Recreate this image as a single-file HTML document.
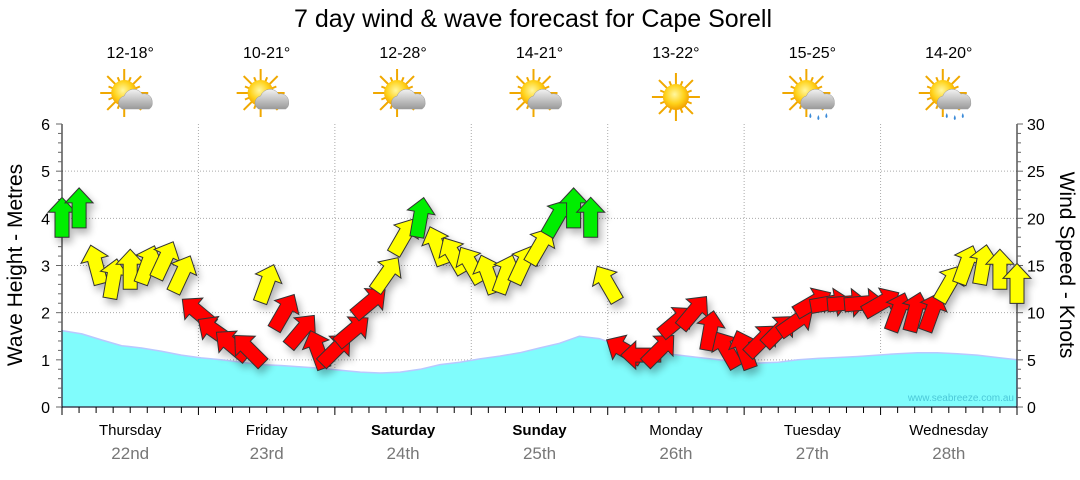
<!DOCTYPE html>
<html><head><meta charset="utf-8"><style>
body{margin:0;background:#fff;width:1080px;height:475px;overflow:hidden;font-family:"Liberation Sans","DejaVu Sans",sans-serif}
</style></head><body>
<svg id="c" width="1080" height="475" xmlns="http://www.w3.org/2000/svg">
<defs>
<filter id="sh" x="-50%" y="-50%" width="200%" height="200%"><feGaussianBlur in="SourceAlpha" stdDeviation="4"/><feOffset dx="3" dy="5"/><feComponentTransfer><feFuncA type="linear" slope="0.3"/></feComponentTransfer><feMerge><feMergeNode/><feMergeNode in="SourceGraphic"/></feMerge></filter>
<radialGradient id="sun" cx="0.45" cy="0.4" r="0.6"><stop offset="0" stop-color="#fff7a0"/><stop offset="0.6" stop-color="#ffd21a"/><stop offset="1" stop-color="#f2a000"/></radialGradient>
<linearGradient id="cl" x1="0" y1="0" x2="0" y2="1"><stop offset="0" stop-color="#f2f2f2"/><stop offset="1" stop-color="#9a9a9a"/></linearGradient>
</defs>
<text x="533" y="27" text-anchor="middle" font-size="25" fill="#000">7 day wind &amp; wave forecast for Cape Sorell</text>
<g id="grid"></g><g id="wave"></g><g id="axes"></g><g id="arrows" filter="url(#sh)"></g><g id="top"></g>
<text x="1014" y="401" text-anchor="end" font-size="10" fill="#4cc8d8">www.seabreeze.com.au</text>
<text transform="translate(22,265) rotate(-90)" text-anchor="middle" font-size="21">Wave Height - Metres</text>
<text transform="translate(1060,265) rotate(90)" text-anchor="middle" font-size="21">Wind Speed - Knots</text>
</svg>
<script>
const days=["Thursday","Friday","Saturday","Sunday","Monday","Tuesday","Wednesday"];
const dates=["22nd","23rd","24th","25th","26th","27th","28th"];
const temps=["12-18°","10-21°","12-28°","14-21°","13-22°","15-25°","14-20°"];
const icons=["pc","pc","pc","pc","sun","rain","rain"];
const waveTicks=[0,1,2,3,4,5,6];
const windTicks=[0,5,10,15,20,25,30];
// wave height every 6 hours
const wave=[1.62,1.55,1.42,1.3,1.25,1.18,1.1,1.04,1.0,0.95,0.9,0.88,0.85,0.82,0.78,0.74,0.72,0.74,0.8,0.9,0.95,1.02,1.08,1.15,1.25,1.35,1.5,1.45,1.3,1.2,1.15,1.1,1.05,1.0,0.95,0.93,0.95,1.0,1.03,1.05,1.07,1.1,1.13,1.15,1.15,1.13,1.1,1.05,1.0];
// wind every 3 hours: speed (kn), arrow angle (deg, 0=up)
const windSpd=[20,21,15,13.5,14.5,15,15.5,14, 10,8,6.5,6,13,10,8,6, 6,8,11,14,18,20,17,16, 15,14,14,15,17,20,21,20, 13,6,5.5,6,9,10,8,6, 6,7,8,9,11,11,11,11, 11,10,10,10,13,15,15,14.5,13];
const windDir=[0,0,-15,10,0,20,25,25, -50,-55,-50,-45,20,30,40,-20, 45,50,50,35,30,10,-20,-30, -30,-20,20,25,30,30,0,0, -30,-60,-90,45,50,40,10,-30, -20,45,45,55,60,80,85,85, 60,20,15,20,30,20,10,0,0];
const X0=62,X1=1017,YB=407,YT=124;
const xs=i=>X0+(X1-X0)*i/56, xw=i=>X0+(X1-X0)*i/48;
const yWave=v=>YB-(YB-YT)*v/6, yWind=v=>YB-(YB-YT)*v/30;
const NS="http://www.w3.org/2000/svg";
function mk(p,t,a){const e=document.createElementNS(NS,t);for(const k in a)e.setAttribute(k,a[k]);p.appendChild(e);return e;}
const G=id=>document.getElementById(id);
const g=G('grid');
for(let i=1;i<7;i++){const x=X0+(X1-X0)*i/7;const l=mk(g,'line',{x1:x,x2:x,y1:YT,y2:YB,stroke:'#aaa','stroke-dasharray':'1,2'});

}
waveTicks.forEach(v=>{if(v>0&&v<6){const l=mk(g,'line',{x1:X0,x2:X1,y1:yWave(v),y2:yWave(v),stroke:'#aaa','stroke-dasharray':'1,2'});

}});
let d='M'+X0+','+YB;
wave.forEach((v,i)=>{d+=' L'+xw(i).toFixed(1)+','+yWave(v).toFixed(1);});
d+=' L'+X1+','+YB+'Z';
const wa=mk(G('wave'),'path',{d:d,fill:'#80fcfc',stroke:'#b8c8ff','stroke-width':1.5});


const a=G('axes');
mk(a,'line',{x1:X0,x2:X0,y1:YT,y2:YB,stroke:'#000'});
mk(a,'line',{x1:X1,x2:X1,y1:YT,y2:YB,stroke:'#000'});
mk(a,'line',{x1:X0,x2:X1,y1:YB,y2:YB,stroke:'#000'});
for(let k=0;k<=30;k++){const y=YB-(YB-YT)*k/30;const big=k%5==0;
mk(a,'line',{x1:X0-(big?6:4),x2:X0,y1:y,y2:y,stroke:'#666'});
mk(a,'line',{x1:X1,x2:X1+(big?6:4),y1:y,y2:y,stroke:'#666'});}
waveTicks.forEach(v=>{const t=mk(a,'text',{x:50,y:yWave(v)+6,'text-anchor':'end','font-size':16});t.textContent=v;

});
windTicks.forEach(v=>{const t=mk(a,'text',{x:1027,y:yWind(v)+6,'font-size':16});t.textContent=v;

});
for(let i=0;i<=56;i++){const x=xs(i);mk(a,'line',{x1:x,x2:x,y1:YB,y2:YB+(i%8==0?8:6),stroke:'#000'});}
const dw=(X1-X0)/7;
days.forEach((n,i)=>{const cx=X0+dw*(i+0.5);
const t=mk(a,'text',{x:cx,y:435,'text-anchor':'middle','font-size':15,'font-weight':(i==2||i==3)?'bold':'normal'});t.textContent=n;


const t2=mk(a,'text',{x:cx,y:459,'text-anchor':'middle','font-size':17,fill:'#777'});t2.textContent=dates[i];


const t3=mk(G('top'),'text',{x:cx,y:58,'text-anchor':'middle','font-size':16});t3.textContent=temps[i];


const ic=mk(G('top'),'g',{transform:'translate('+cx+',97)'});


const sx=icons[i]=='sun'?0:-6, sy=icons[i]=='sun'?0:-4;
for(let r=0;r<16;r++){const an=r*Math.PI/8,L=r%2?17:24;mk(ic,'line',{x1:sx,y1:sy,x2:sx+L*Math.sin(an),y2:sy-L*Math.cos(an),stroke:'#f0a800','stroke-width':2});}
mk(ic,'circle',{cx:sx,cy:sy,r:13,fill:'url(#sun)'});
if(icons[i]!='sun'){mk(ic,'path',{d:'M-8,12 a7,7 0 0 1 2,-13 a10,10 0 0 1 18,-2 a8,8 0 0 1 10,8 a7,7 0 0 1 -3,7z',fill:'url(#cl)',stroke:'#999','stroke-width':0.5});
if(icons[i]=='rain'){[[-2,16],[6,18],[14,16]].forEach(p=>mk(ic,'path',{d:'M'+p[0]+','+p[1]+' q-2,4 0,5 q2,-1 0,-5z',fill:'#3a8ad8'}));}}
});
const ar=G('arrows');
windSpd.forEach((s,i)=>{const x=xs(i),y=yWind(s);
const col=s>=19?'#00ee00':(s>=12.5?'#ffff00':'#ff0000');
const p=mk(ar,'path',{d:'M0,-21 L14,-6 L7,-6 L7,19 L-7,19 L-7,-6 L-14,-6Z',fill:col,stroke:'#333','stroke-width':1,transform:'translate('+x.toFixed(1)+','+y.toFixed(1)+') rotate('+windDir[i]+')'});

});
</script>
</body></html>
